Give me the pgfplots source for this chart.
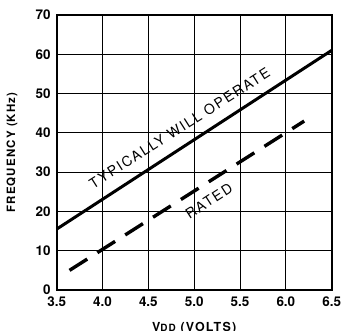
\documentclass[border=0pt]{standalone}
\usepackage{fontspec}
\setmainfont{TeX Gyre Heros}
\newfontfamily\tickfont{TeX Gyre Heros}[Scale=1]
\usepackage{pgfplots}
\pgfplotsset{compat=1.18}
\begin{document}
\begin{tikzpicture}
\begin{axis}[
  name=ax,
  scale only axis, width=275bp, height=275bp,
  xmin=3.5, xmax=6.5, ymin=0, ymax=70,
  xtick={3.5,4,4.5,5,5.5,6,6.5},
  xticklabels={3.5,4.0,4.5,5.0,5.5,6.0,6.5},
  ytick={0,10,20,30,40,50,60,70},
  yticklabels={0,10,20,30,40,50,60,70},
  grid=major, grid style={black, line width=0.8bp},
  axis line style={line width=2.2bp},
  major tick length=0,
  /pgf/number format/assume math mode=true,
  xticklabel style={font=\tickfont\bfseries\fontsize{13.5}{13.5}\selectfont, inner sep=0pt, yshift=-7bp},
  yticklabel style={font=\tickfont\bfseries\fontsize{13.5}{13.5}\selectfont, inner sep=0pt, xshift=-6bp},
  xlabel={V{\fontsize{10}{10}\selectfont DD} (VOLTS)},
  ylabel={FREQUENCY (KHz)},
  ylabel style={font=\bfseries\fontsize{11.5}{11.5}\selectfont\addfontfeature{LetterSpace=10}, inner sep=0pt, at={(axis description cs:-0.142,0.5)}, anchor=south},
  xlabel style={font=\bfseries\fontsize{12.5}{12.5}\selectfont\addfontfeature{LetterSpace=10}, inner sep=0pt, at={(axis description cs:0.5,-0.1164)}, anchor=north},
  clip=false,
]
\addplot[black, line width=3bp] coordinates {(3.5,15.5) (6.5,61)};
\addplot[black, line width=3.4bp, dash pattern=on 21bp off 12bp] coordinates {(3.64,5) (6.2,43)};
\node[rotate=32.5, inner sep=0pt, font=\fontsize{14}{14}\selectfont\addfontfeature{LetterSpace=12}] at (axis cs:4.84,41.2) {TYPICALLY WILL OPERATE};
\node[rotate=33, inner sep=0pt, font=\fontsize{14}{14}\selectfont\addfontfeature{LetterSpace=12}] at (axis cs:5.16,22.7) {RATED};
\end{axis}
\pgfresetboundingbox
\path ([xshift=-56.7bp,yshift=-41bp]ax.south west) rectangle ([xshift=9.3bp,yshift=15bp]ax.north east);
\end{tikzpicture}
\end{document}
